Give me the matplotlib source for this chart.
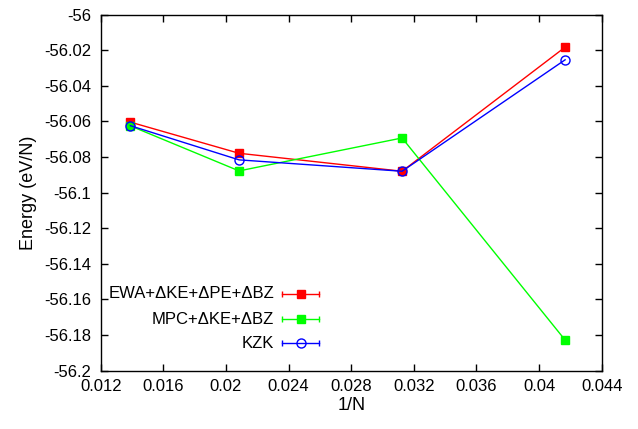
import matplotlib
matplotlib.use("Agg")
import matplotlib.pyplot as plt

plt.rcParams['font.family'] = ['Liberation Sans', 'DejaVu Sans']

# Data
N_inv = [1/72, 1/48, 1/32, 1/24]
ewa = [-56.0604, -56.0779, -56.0880, -56.0183]
mpc = [-56.0625, -56.0878, -56.0693, -56.1828]
kzk = [-56.0624, -56.0816, -56.0880, -56.0254]

labels = ["EWA+\u0394KE+\u0394PE+\u0394BZ", "MPC+\u0394KE+\u0394BZ", "KZK"]
colors = ["#ff0000", "#00ff00", "#0000ff"]

xticks = [0.012, 0.016, 0.020, 0.024, 0.028, 0.032, 0.036, 0.040, 0.044]
xticklabels = ["0.012", "0.016", "0.02", "0.024", "0.028", "0.032", "0.036", "0.04", "0.044"]
yticks = [-56.0, -56.02, -56.04, -56.06, -56.08, -56.1, -56.12, -56.14, -56.16, -56.18, -56.2]
yticklabels = ["-56", "-56.02", "-56.04", "-56.06", "-56.08", "-56.1", "-56.12",
               "-56.14", "-56.16", "-56.18", "-56.2"]

fig = plt.figure(figsize=(6.38, 4.29), dpi=100)
ax = fig.add_axes([0.158, 0.136, 0.785, 0.830])

series = [ewa, mpc, kzk]
markers = ['s', 's', 'o']
mfc = [colors[0], colors[1], 'none']
for vals, c, m, fc in zip(series, colors, markers, mfc):
    ax.plot(N_inv, vals, color=c, lw=1.0, marker=m, markersize=6.3 if m == 's' else 6.5,
            markerfacecolor=fc, markeredgecolor=c, markeredgewidth=1.0)

ax.set_xlim(0.012, 0.044)
ax.set_ylim(-56.2, -56.0)
ax.set_xticks(xticks)
ax.set_xticklabels(xticklabels)
ax.set_yticks(yticks)
ax.set_yticklabels(yticklabels)
ax.tick_params(direction='in', length=5, width=1, top=True, right=True, labelsize=12)
ax.tick_params(axis='x', pad=6)
ax.tick_params(axis='y', pad=7)
for s in ax.spines.values():
    s.set_linewidth(1.0)
ax.set_xlabel("1/N", fontsize=13)
ax.set_ylabel("Energy (eV/N)", fontsize=13)
ax.xaxis.set_label_coords(0.5, -0.075)
ax.yaxis.set_label_coords(-0.127, 0.5)

# gnuplot-style key
rows = [0.2154, 0.1444, 0.0770]
for lab, c, m, fc, yr in zip(labels, colors, markers, mfc, rows):
    ax.text(0.346, yr, lab, transform=ax.transAxes, ha='right', va='center', fontsize=12)
    ax.plot([0.362, 0.436], [yr, yr], transform=ax.transAxes, color=c, lw=1.0, clip_on=False)
    ax.plot([0.362, 0.436], [yr, yr], transform=ax.transAxes, color=c, lw=0, marker='|',
            markersize=5, markeredgewidth=1.0, clip_on=False)
    ax.plot([0.399], [yr], transform=ax.transAxes, color=c, lw=0, marker=m,
            markersize=6.3 if m == 's' else 6.5, markerfacecolor=fc, markeredgecolor=c,
            markeredgewidth=1.0, clip_on=False)

fig.savefig("out.png", dpi=100)
